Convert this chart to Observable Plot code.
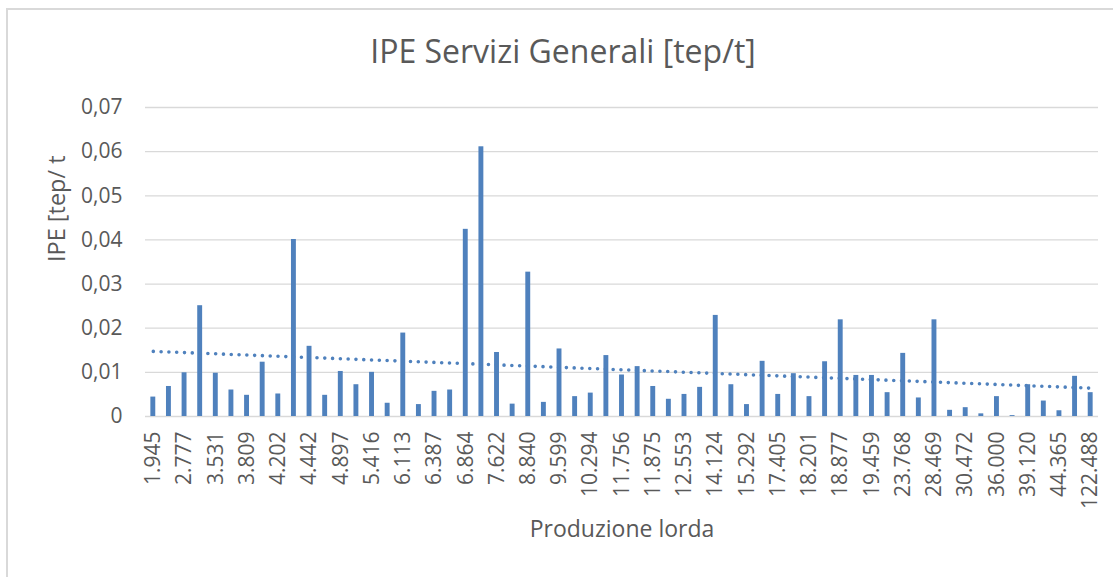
<!DOCTYPE html>
<html>
<head>
<meta charset="utf-8">
<script src="https://cdn.jsdelivr.net/npm/d3@7"></script>
<script src="https://cdn.jsdelivr.net/npm/@observablehq/plot@0.6"></script>
<style>
  html, body { margin: 0; padding: 0; background: #fff; }
  #wrap { position: relative; width: 1113px; height: 577px; overflow: hidden; font-family: "Open Sans", sans-serif; }
  #frame { position: absolute; left: 6px; top: 8px; width: 1400px; height: 900px; border: 2px solid #d9d9d9; box-sizing: border-box; }
  #title { position: absolute; left: 0; top: 34.6px; width: 1126px; text-align: center; font-size: 32px; line-height: 32px; color: #595959; white-space: nowrap; }
  #chart { position: absolute; left: 0; top: 90px; }
</style>
</head>
<body>
<div id="wrap">
  <div id="frame"></div>
  <div id="title">IPE Servizi Generali [tep/t]</div>
  <div id="chart"></div>
</div>
<script>
// Tick labels (every other category is labelled)
const labels = ["1.945","2.777","3.531","3.809","4.202","4.442","4.897","5.416","6.113","6.387",
  "6.864","7.622","8.840","9.599","10.294","11.756","11.875","12.553","14.124","15.292",
  "17.405","18.201","18.877","19.459","23.768","28.469","30.472","36.000","39.120","44.365","122.488"];

// IPE values [tep/t], one per category (61)
const ipe = [
  0.0044,0.0068,0.0099,0.0251,0.0098,0.0060,0.0048,0.0123,0.0051,0.0401,
  0.0159,0.0048,0.0102,0.0072,0.0100,0.0030,0.0189,0.0027,0.0057,0.0060,
  0.0424,0.0611,0.0145,0.0028,0.0327,0.0032,0.0153,0.0045,0.0053,0.0138,
  0.0094,0.0113,0.0068,0.0039,0.0050,0.0066,0.0229,0.0072,0.0027,0.0125,
  0.0050,0.0097,0.0045,0.0124,0.0219,0.0093,0.0093,0.0054,0.0143,0.0042,
  0.0219,0.0014,0.0020,0.0006,0.0045,0.0002,0.0072,0.0035,0.0013,0.0091,
  0.0054
];

const yTicks = [0, 0.01, 0.02, 0.03, 0.04, 0.05, 0.06, 0.07];

const data = ipe.map((v, i) => ({i, v}));
const n = ipe.length;

// Linear trendline (least squares on category index)
const mx = d3.mean(data, d => d.i), my = d3.mean(data, d => d.v);
const slope = d3.sum(data, d => (d.i - mx) * (d.v - my)) / d3.sum(data, d => (d.i - mx) ** 2);
const trend = data.map(d => ({i: d.i, t: my + slope * (d.i - mx)}));

const blue = "#4f81bd";
const fmt = d => d === 0 ? "0" : d.toFixed(2).replace(".", ",");

const chart = Plot.plot({
  width: 1113,
  height: 487,
  marginTop: 17,
  marginBottom: 161,
  marginLeft: 145,
  marginRight: 15,
  style: {fontFamily: "Open Sans", fontSize: "21px", color: "#595959", background: "transparent", overflow: "visible"},
  x: {type: "band", domain: d3.range(n), paddingInner: 0.686, paddingOuter: 0.343},
  y: {domain: [0, 0.07]},
  marks: [
    Plot.gridY(yTicks, {stroke: "#d9d9d9", strokeOpacity: 1, strokeWidth: 1.3}),
    Plot.barY(data, {x: "i", y: "v", fill: blue}),
    Plot.line(trend, {x: "i", y: "t", stroke: blue, strokeWidth: 3.6, strokeDasharray: "0,7.8", strokeLinecap: "round"}),
    Plot.axisY({ticks: yTicks, tickSize: 0, tickPadding: 23, tickFormat: fmt, label: null, fontSize: 21}),
    Plot.axisX({ticks: d3.range(0, n, 2), tickSize: 0, tickPadding: 15, tickRotate: -90, tickFormat: i => labels[i / 2], label: null, fontSize: 21}),
    Plot.text(["IPE [tep/ t"], {text: d => d, frameAnchor: "left", dx: -88, rotate: -90, fontSize: 23.5, fill: "#595959"}),
    Plot.text(["Produzione lorda"], {text: d => d, frameAnchor: "bottom", dy: 120.6, fontSize: 23, fill: "#595959"})
  ]
});
document.getElementById("chart").appendChild(chart);
</script>
</body>
</html>
